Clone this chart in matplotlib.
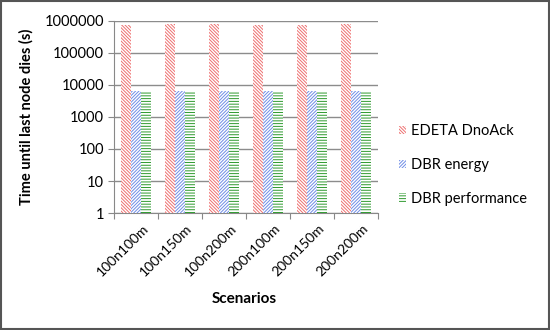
import matplotlib
matplotlib.use("Agg")
import matplotlib.pyplot as plt
import numpy as np
from matplotlib.patches import Rectangle

categories = ["100n100m", "100n150m", "100n200m", "200n100m", "200n150m", "200n200m"]
edeta = [760000, 780000, 820000, 740000, 770000, 780000]
dbr_energy = [6300, 6300, 6300, 6300, 6300, 6300]
dbr_perf = [6000, 6000, 6000, 6000, 6000, 6000]
series_names = ["EDETA DnoAck", "DBR energy", "DBR performance"]
yticks = [1, 10, 100, 1000, 10000, 100000, 1000000]

plt.rcParams['font.family'] = ['Lato', 'DejaVu Sans']
plt.rcParams['hatch.linewidth'] = 0.7

fig = plt.figure(figsize=(5.5, 3.3), dpi=100)
ax = fig.add_axes([0.207, 0.3545, 0.48, 0.582])

x = np.arange(len(categories))
w = 0.23
specs = [
    (edeta, "#ee7070", "\\" * 10),
    (dbr_energy, "#6f8de6", "/" * 10),
    (dbr_perf, "#2f9a2f", "-" * 6),
]
for i, (vals, col, h) in enumerate(specs):
    ax.bar(x + (i - 1) * w, vals, w, bottom=1, facecolor="white", edgecolor=col,
           hatch=h, linewidth=0, label=series_names[i], zorder=3)

ax.set_yscale("log")
ax.set_ylim(1, 1000000)
ax.set_yticks(yticks)
ax.set_yticklabels([str(v) for v in yticks])
ax.minorticks_off()
ax.set_xlim(-0.5, len(categories) - 0.5)
ax.set_xticks(np.arange(len(categories) + 1) - 0.5, minor=False)
ax.set_xticklabels([""] * (len(categories) + 1))
ax.tick_params(axis="x", length=4, color="#888888", direction="out")
for xi, c in zip(x, categories):
    ax.text(xi + 0.14, -0.05, c, transform=ax.get_xaxis_transform(), rotation=45,
            ha="right", va="top", rotation_mode="anchor", fontsize=10, color="black")
ax.tick_params(axis="y", length=4, color="#888888", direction="out", labelsize=10.5, pad=3)
ax.grid(axis="y", color="#8c8c8c", linewidth=1, zorder=0)
for s in ["top", "right"]:
    ax.spines[s].set_visible(False)
for s in ["left", "bottom"]:
    ax.spines[s].set_color("#888888")

ax.set_ylabel("Time until last node dies (s)", fontsize=10.5, fontweight="bold", labelpad=8)
fig.text(0.445, 0.094, "Scenarios", ha="center", va="center", fontsize=11, fontweight="bold")

leg = ax.legend(loc="center left", bbox_to_anchor=(1.03, 0.25), frameon=False, fontsize=10.5,
                handlelength=0.5, handleheight=0.5, handletextpad=0.3, labelspacing=1.35)

fig.patches.append(Rectangle((0.002, 0.003), 0.996, 0.994, transform=fig.transFigure,
                             fill=False, edgecolor="#555555", linewidth=1.5))

fig.savefig("out.png", dpi=100)
